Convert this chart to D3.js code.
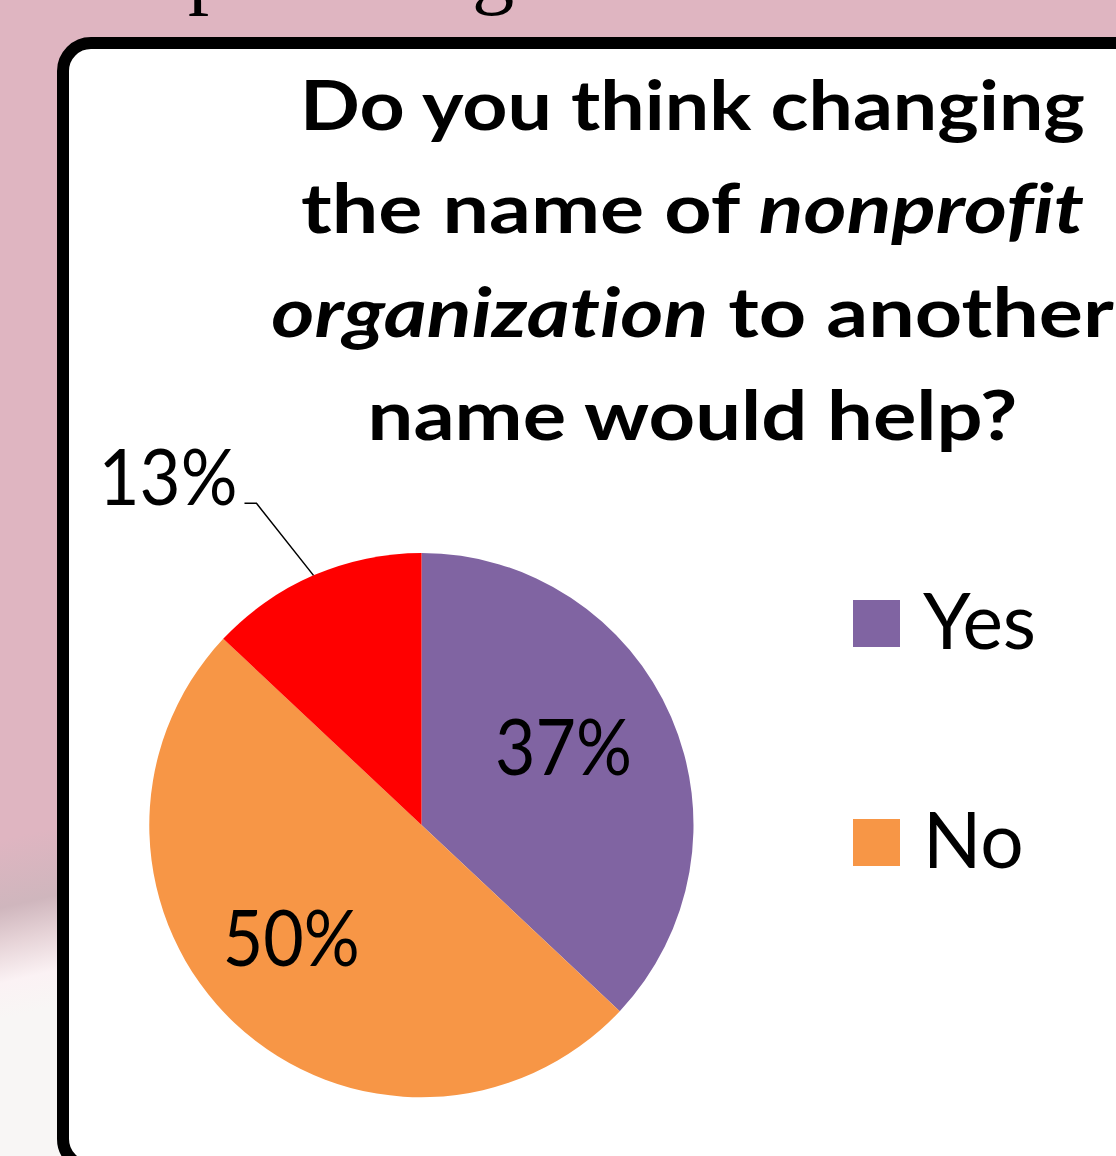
<!DOCTYPE html>
<html>
<head>
<meta charset="utf-8">
<script src="https://cdn.jsdelivr.net/npm/d3@7"></script>
<style>
  html, body { margin: 0; padding: 0; background: #dfb5c1; overflow: hidden; }
  svg { display: block; }
  text { white-space: pre; font-variant-ligatures: none; font-feature-settings: "liga" 0; }
</style>
</head>
<body>
<svg id="chart" width="1116" height="1156"></svg>
<script>
// ---- data ----
const categories = ["Yes", "No", "Unsure"];
const values = [37, 50, 13];
const sliceColors = ["#8064A2", "#F79646", "#FF0000"];
const legendCategories = ["Yes", "No"];
const valueLabels = ["37%", "50%", "13%"];
const titleLines = [
  [{ text: "Do you think changing", italic: false }],
  [{ text: "the name of ", italic: false }, { text: "nonprofit", italic: true }],
  [{ text: "organization", italic: true }, { text: " to another", italic: false }],
  [{ text: "name would help?", italic: false }]
];
const slideHeading = "Top Findings";

// ---- layout ----
const W = 1116, H = 1156;
const svg = d3.select("#chart");
const defs = svg.append("defs");

// soft light patch on the slide background at lower left
const haze = defs.append("linearGradient").attr("id", "haze")
  .attr("gradientUnits", "userSpaceOnUse")
  .attr("x1", 0).attr("y1", 840).attr("x2", 40).attr("y2", 1010);
[[0, "#dfb5c1"], [0.38, "#cfb6bd"], [0.58, "#e6d3d7"], [0.8, "#fbf2f4"], [1, "#f8f6f5"]]
  .forEach(([o, c]) => haze.append("stop").attr("offset", o).attr("stop-color", c));
svg.append("rect").attr("width", W).attr("height", H).attr("fill", "#dfb5c1");
svg.append("rect").attr("x", 0).attr("y", 700).attr("width", 70).attr("height", H - 700).attr("fill", "url(#haze)");

// slide heading, mostly above the visible area
const heading = svg.append("text")
  .attr("font-family", "Liberation Serif, Times New Roman, serif")
  .attr("font-size", 100)
  .attr("fill", "#000")
  .attr("x", 0).attr("y", -5)
  .text(slideHeading);
{
  const node = heading.node();
  const pIdx = slideHeading.indexOf("p");
  const gIdx = slideHeading.lastIndexOf("g");
  const gap = node.getExtentOfChar(gIdx).x - node.getExtentOfChar(pIdx).x;
  const size = 100 * 284 / gap;
  heading.attr("font-size", size).attr("y", 16 - 0.217 * size);
  heading.attr("x", 188 - node.getExtentOfChar(pIdx).x);
}

// chart frame
svg.append("rect")
  .attr("x", 63).attr("y", 43)
  .attr("width", 1200).attr("height", 1124)
  .attr("rx", 28).attr("ry", 28)
  .attr("fill", "#ffffff")
  .attr("stroke", "#000").attr("stroke-width", 12);

// ---- title ----
const titleX = 692.5;
const titleWidths = [785, 783, 843, 650];
const titleBaselines = d3.scalePoint().domain(d3.range(titleLines.length)).range([130, 440]);
titleLines.forEach((segs, i) => {
  const t = svg.append("text")
    .attr("text-anchor", "middle")
    .attr("font-family", "Lato, 'Open Sans', sans-serif")
    .attr("font-weight", 700)
    .attr("font-size", 69)
    .attr("fill", "#000");
  segs.forEach(s => t.append("tspan").attr("font-style", s.italic ? "italic" : "normal").text(s.text));
  const sx = titleWidths[i] / t.node().getBBox().width;
  t.attr("transform", `translate(${titleX},${titleBaselines(i)}) scale(${sx},1)`);
});

// ---- pie ----
const cx = 421.5, cy = 825, R = 272;
const color = d3.scaleOrdinal().domain(categories).range(sliceColors);
const pie = d3.pie().sort(null).value(d => d.value);
const arcs = pie(categories.map((c, i) => ({ name: c, value: values[i], label: valueLabels[i] })));
const arc = d3.arc().innerRadius(0).outerRadius(R);
const labelArc = d3.arc().innerRadius(170).outerRadius(170);
const edgeArc = d3.arc().innerRadius(R).outerRadius(R);

const pieG = svg.append("g").attr("transform", `translate(${cx},${cy})`);
pieG.selectAll("path.slice").data(arcs).join("path")
  .attr("class", "slice")
  .attr("d", arc)
  .attr("fill", d => color(d.data.name));

const labelFont = "Lato, 'Open Sans', sans-serif";
const labelSize = 78;
const labelWidth = 137;

function squeezeText(sel, x, y, width, anchor) {
  const w = sel.node().getBBox().width;
  sel.attr("text-anchor", anchor)
    .attr("transform", `translate(${x},${y}) scale(${width / w},1)`);
}

// inside labels for the large slices
arcs.filter(d => d.data.value >= 20).forEach(d => {
  const [lx, ly] = labelArc.centroid(d);
  const t = pieG.append("text")
    .attr("font-family", labelFont).attr("font-size", labelSize)
    .attr("fill", "#000")
    .attr("dominant-baseline", "central")
    .text(d.data.label);
  squeezeText(t, lx - 14, ly - 13, labelWidth, "middle");
});

// outside label with leader line for the small slice
arcs.filter(d => d.data.value < 20).forEach(d => {
  const [ex, ey] = edgeArc.centroid(d);
  const elbow = [ex - 57, ey - 72];
  const end = [elbow[0] - 12, elbow[1]];
  pieG.append("path")
    .attr("d", d3.line()([[ex, ey], elbow, end]))
    .attr("fill", "none").attr("stroke", "#000").attr("stroke-width", 1.5);
  const t = pieG.append("text")
    .attr("font-family", labelFont).attr("font-size", labelSize)
    .attr("fill", "#000")
    .text(d.data.label);
  squeezeText(t, end[0] - 7, end[1] + 2, labelWidth + 2, "end");
});

// ---- legend ----
const legendY = d3.scalePoint().domain(legendCategories).range([600, 819]);
const sw = 47;
const legend = svg.append("g");
let legendScale = null;
legendCategories.forEach(c => {
  legend.append("rect")
    .attr("x", 853).attr("y", legendY(c))
    .attr("width", sw).attr("height", sw)
    .attr("fill", color(c));
  const t = legend.append("text")
    .attr("font-family", labelFont).attr("font-size", labelSize)
    .attr("fill", "#000")
    .text(c);
  if (legendScale === null) legendScale = 113 / t.node().getBBox().width;
  t.attr("transform", `translate(923,${legendY(c) + sw + 2}) scale(${legendScale},1)`);
});
</script>
</body>
</html>
